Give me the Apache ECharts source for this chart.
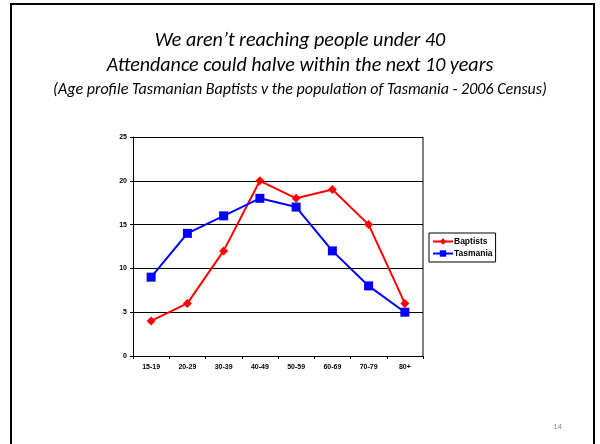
<!DOCTYPE html>
<html><head><meta charset="utf-8">
<script src="https://cdn.jsdelivr.net/npm/echarts@6/dist/echarts.min.js"></script>
<style>html,body{margin:0;padding:0;background:#fff}#c{width:600px;height:444px}</style>
</head><body><div id="c"></div>
<script>
var categories = ['15-19','20-29','30-39','40-49','50-59','60-69','70-79','80+'];
var baptists = [4, 6, 12, 20, 18, 19, 15, 6];
var tasmania = [9, 14, 16, 18, 17, 12, 8, 5];
var yTicks = {min: 0, max: 25, interval: 5};
var titleLines = ['We aren\u2019t reaching people under 40', 'Attendance could halve within the next 10 years'];
var subtitle = '(Age profile Tasmanian Baptists v the population of Tasmania - 2006 Census)';
var pageNo = '14';

var chart = echarts.init(document.getElementById('c'), null, {renderer: 'canvas'});
var font = 'Calibri, Carlito, "Open Sans", sans-serif';
chart.setOption({
  animation: false,
  backgroundColor: '#fff',
  graphic: [
    {type: 'rect', shape: {x: 11, y: 4, width: 583, height: 460}, style: {fill: 'none', stroke: '#000', lineWidth: 2}, z: 0},
    {type: 'line', shape: {x1: 423, y1: 137, x2: 423, y2: 356}, style: {stroke: '#808080', lineWidth: 2}, z: 0},
    {type: 'text', left: 'center', top: 31, style: {text: titleLines[0], font: 'italic 20px ' + font, fill: '#000', textAlign: 'center'}},
    {type: 'text', left: 'center', top: 56, style: {text: titleLines[1], font: 'italic 20px ' + font, fill: '#000', textAlign: 'center'}},
    {type: 'text', left: 'center', top: 82, style: {text: subtitle, font: 'italic 16px ' + font, fill: '#000', textAlign: 'center'}},
    {type: 'text', left: 553, top: 422, style: {text: pageNo, font: '9px ' + font, fill: '#8c8c8c'}}
  ],
  grid: {left: 133, right: 177, top: 137, bottom: 88},
  legend: {
    orient: 'vertical', left: 429, top: 233,
    data: ['Baptists', 'Tasmania'],
    borderColor: '#000', borderWidth: 1, padding: [4, 3, 4, 3],
    itemGap: 3, itemWidth: 20, itemHeight: 8,
    textStyle: {fontFamily: 'Arial, "Liberation Sans", sans-serif', fontWeight: 'bold', fontSize: 8.5, color: '#000', padding: [0, 0, 0, -4]}
  },
  xAxis: {
    type: 'category', data: categories, boundaryGap: true,
    axisLine: {lineStyle: {color: '#000', width: 1}},
    axisTick: {show: true, length: 3, lineStyle: {color: '#000'}},
    axisLabel: {fontFamily: 'Arial, "Liberation Sans", sans-serif', fontWeight: 'bold', fontSize: 7, color: '#000', margin: 8}
  },
  yAxis: {
    type: 'value', min: yTicks.min, max: yTicks.max, interval: yTicks.interval,
    axisLine: {show: true, lineStyle: {color: '#000', width: 1}},
    axisTick: {show: true, length: 3, lineStyle: {color: '#000'}},
    splitLine: {show: true, lineStyle: {color: '#000', width: 1}},
    axisLabel: {fontFamily: 'Arial, "Liberation Sans", sans-serif', fontWeight: 'bold', fontSize: 7, color: '#000', margin: 6}
  },
  series: [
    {name: 'Baptists', type: 'line', data: baptists, symbol: 'diamond', symbolSize: 9,
     lineStyle: {color: '#ff0000', width: 2}, itemStyle: {color: '#ff0000'}},
    {name: 'Tasmania', type: 'line', data: tasmania, symbol: 'rect', symbolSize: 9,
     lineStyle: {color: '#0000ff', width: 2}, itemStyle: {color: '#0000ff'}}
  ]
});
</script></body></html>
